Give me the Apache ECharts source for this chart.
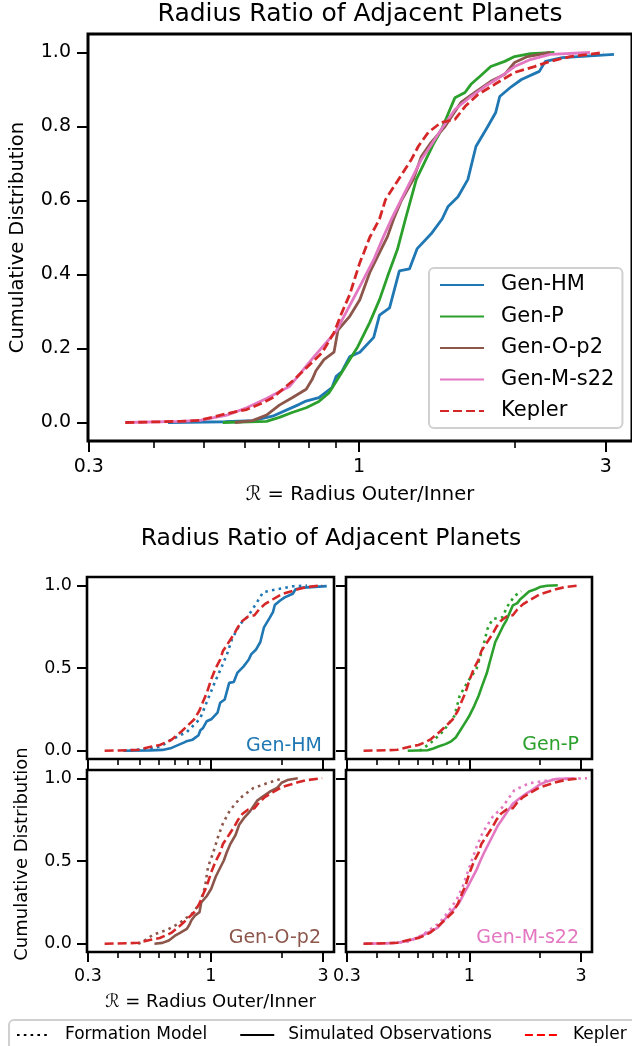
<!DOCTYPE html>
<html>
<head>
<meta charset="utf-8">
<script src="https://cdn.jsdelivr.net/npm/echarts@6/dist/echarts.min.js"></script>
<style>
  html, body { margin: 0; padding: 0; background: #fff; }
  #chart { width: 632px; height: 1046px; }
</style>
</head>
<body>
<div id="chart"></div>
<script>
// tick labels
var xTickMajor = [0.3, 1, 3];
var xTickMinor = [0.4, 0.5, 0.6, 0.7, 0.8, 0.9, 2];
var yTicksTop = [0, 0.2, 0.4, 0.6, 0.8, 1.0];
var yTicksSub = [0, 0.5, 1.0];

// simulated observations: [radius ratio, cumulative fraction]
var genHM = [[0.427,0],[0.55,0.002],[0.622,0.005],[0.68,0.017],[0.766,0.049],[0.786,0.057],[0.836,0.067],[0.886,0.094],[0.902,0.124],[0.926,0.138],[0.959,0.178],[1.003,0.19],[1.067,0.23],[1.095,0.29],[1.145,0.31],[1.196,0.41],[1.251,0.415],[1.295,0.47],[1.378,0.51],[1.447,0.55],[1.486,0.584],[1.553,0.61],[1.623,0.657],[1.682,0.746],[1.773,0.80],[1.837,0.838],[1.870,0.881],[1.971,0.908],[2.060,0.927],[2.231,0.949],[2.291,0.976],[2.471,0.986],[3.11,0.995]];
var genP = [[0.545,0],[0.662,0.003],[0.701,0.014],[0.742,0.027],[0.790,0.040],[0.836,0.057],[0.874,0.080],[0.902,0.110],[0.959,0.170],[0.994,0.205],[1.048,0.270],[1.095,0.332],[1.135,0.395],[1.186,0.468],[1.229,0.550],[1.290,0.657],[1.390,0.751],[1.441,0.790],[1.532,0.878],[1.602,0.892],[1.645,0.914],[1.711,0.935],[1.797,0.962],[1.912,0.976],[1.998,0.989],[2.144,0.997],[2.385,1.0]];
var genOp2 = [[0.575,0],[0.622,0.005],[0.662,0.02],[0.701,0.047],[0.742,0.067],[0.790,0.09],[0.811,0.116],[0.825,0.14],[0.855,0.17],[0.894,0.19],[0.910,0.25],[0.959,0.287],[1.003,0.332],[1.048,0.405],[1.095,0.459],[1.135,0.503],[1.166,0.55],[1.207,0.60],[1.273,0.657],[1.319,0.719],[1.378,0.757],[1.466,0.80],[1.573,0.865],[1.674,0.892],[1.797,0.922],[1.912,0.941],[1.998,0.973],[2.116,0.989],[2.342,1.0]];
var genMs22 = [[0.353,0],[0.45,0.003],[0.492,0.006],[0.555,0.02],[0.606,0.04],[0.662,0.065],[0.733,0.097],[0.818,0.178],[0.902,0.246],[0.943,0.297],[1.012,0.378],[1.067,0.44],[1.115,0.503],[1.155,0.55],[1.262,0.657],[1.319,0.711],[1.372,0.746],[1.441,0.792],[1.532,0.846],[1.645,0.881],[1.750,0.908],[1.878,0.935],[1.998,0.962],[2.144,0.981],[2.342,0.995],[2.795,1.0]];
var kepler = [[0.353,0],[0.45,0.003],[0.492,0.006],[0.555,0.024],[0.606,0.035],[0.653,0.054],[0.680,0.067],[0.749,0.116],[0.848,0.189],[0.894,0.243],[0.926,0.297],[0.959,0.346],[1.003,0.432],[1.021,0.459],[1.048,0.5],[1.095,0.55],[1.125,0.603],[1.202,0.665],[1.262,0.711],[1.301,0.746],[1.360,0.784],[1.441,0.811],[1.532,0.819],[1.602,0.854],[1.696,0.886],[1.829,0.914],[1.998,0.946],[2.183,0.962],[2.342,0.976],[2.559,0.989],[2.974,1.0]];

// formation model (intrinsic) distributions
var genHMForm = [[0.423,0],[0.514,0.008],[0.607,0.024],[0.670,0.062],[0.791,0.114],[0.899,0.193],[0.972,0.313],[1.041,0.416],[1.115,0.512],[1.171,0.584],[1.230,0.675],[1.331,0.765],[1.439,0.813],[1.572,0.898],[1.667,0.958],[1.912,0.976],[2.236,0.994],[2.565,0.998]];
var genPForm = [[0.613,0],[0.677,0.042],[0.769,0.114],[0.864,0.211],[0.908,0.331],[0.982,0.416],[1.072,0.494],[1.137,0.614],[1.194,0.735],[1.254,0.795],[1.383,0.807],[1.453,0.873],[1.556,0.934],[1.667,0.964]];
var genOp2Form = [[0.49,0],[0.508,0.008],[0.567,0.054],[0.651,0.084],[0.739,0.127],[0.839,0.187],[0.899,0.247],[0.944,0.343],[0.972,0.464],[1.021,0.548],[1.072,0.645],[1.126,0.729],[1.206,0.807],[1.331,0.88],[1.511,0.94],[1.733,0.97],[1.968,0.994]];
var genMs22Form = [[0.36,0],[0.47,0.004],[0.556,0.014],[0.632,0.054],[0.746,0.127],[0.807,0.187],[0.881,0.265],[0.935,0.343],[1.001,0.464],[1.072,0.584],[1.137,0.669],[1.254,0.765],[1.383,0.825],[1.556,0.928],[1.802,0.970],[2.348,0.994],[3.181,1.0]];

var FONT = 'DejaVu Sans';
var KEPLER_COLOR = '#d62728';
var models = [
  { name: 'Gen-HM', color: '#1f77b4', sim: genHM, form: genHMForm },
  { name: 'Gen-P', color: '#2ca02c', sim: genP, form: genPForm },
  { name: 'Gen-O-p2', color: '#8c564b', sim: genOp2, form: genOp2Form },
  { name: 'Gen-M-s22', color: '#e377c2', sim: genMs22, form: genMs22Form }
];

function toLog(pts) {
  return pts.map(function (p) { return [Math.log10(p[0]), p[1]]; });
}

var chart = echarts.init(document.getElementById('chart'));

// grid 0 = big panel, 1..4 = small panels
var grids = [
  { left: 88, top: 34, width: 548, height: 407, show: true, borderColor: '#000', borderWidth: 3 },
  { left: 87, top: 577, width: 247, height: 182, show: true, borderColor: '#000', borderWidth: 2.6 },
  { left: 346, top: 577, width: 246, height: 182, show: true, borderColor: '#000', borderWidth: 2.6 },
  { left: 87, top: 770, width: 247, height: 182, show: true, borderColor: '#000', borderWidth: 2.6 },
  { left: 346, top: 770, width: 246, height: 182, show: true, borderColor: '#000', borderWidth: 2.6 }
];

var xAxes = [];
var yAxes = [];

function addAxes(g, o) {
  var tickStyle = { color: '#000', width: 2 };
  xAxes.push({
    type: 'value', gridIndex: g, position: 'bottom',
    min: Math.log10(o.xmin), max: Math.log10(o.xmax),
    axisLine: { show: false, onZero: false },
    splitLine: { show: false },
    axisTick: { show: true, customValues: xTickMajor.map(Math.log10), length: o.major, lineStyle: tickStyle },
    axisLabel: {
      show: o.xLabels, customValues: xTickMajor.map(Math.log10), margin: o.margin,
      color: '#000', fontFamily: FONT, fontSize: o.fs,
      formatter: function (v) { return String(+Math.pow(10, v).toPrecision(2)); }
    },
    name: o.xName || '', nameLocation: 'middle', nameGap: o.xNameGap,
    nameTextStyle: { color: '#000', fontFamily: FONT, fontSize: o.nameFs }
  });
  // minor ticks
  xAxes.push({
    type: 'value', gridIndex: g, position: 'bottom',
    min: Math.log10(o.xmin), max: Math.log10(o.xmax),
    axisLine: { show: false, onZero: false },
    splitLine: { show: false },
    axisTick: { show: true, customValues: xTickMinor.map(Math.log10), length: o.minor, lineStyle: { color: '#000', width: 1.6 } },
    axisLabel: { show: false }
  });
  yAxes.push({
    type: 'value', gridIndex: g, position: 'left',
    min: -0.05, max: 1.05,
    axisLine: { show: false, onZero: false },
    splitLine: { show: false },
    axisTick: { show: true, customValues: o.yTicks, length: o.major, lineStyle: tickStyle },
    axisLabel: {
      show: o.yLabels, customValues: o.yTicks, margin: o.margin,
      color: '#000', fontFamily: FONT, fontSize: o.fs,
      formatter: function (v) { return v.toFixed(1); }
    },
    name: o.yName || '', nameLocation: 'middle', nameGap: o.yNameGap,
    nameTextStyle: { color: '#000', fontFamily: FONT, fontSize: o.nameFs, padding: o.yNamePad || 0 }
  });
}

addAxes(0, { xmin: 0.299, xmax: 3.37, major: 11, minor: 7, margin: 17, fs: 19, nameFs: 19.5,
  xLabels: true, yLabels: true, yTicks: yTicksTop,
  xName: 'ℛ = Radius Outer/Inner', xNameGap: 44, yName: 'Cumulative Distribution', yNameGap: 60 });
addAxes(1, { xmin: 0.297, xmax: 3.34, major: 10, minor: 6, margin: 15, fs: 17.5, nameFs: 18,
  xLabels: false, yLabels: true, yTicks: yTicksSub });
addAxes(2, { xmin: 0.297, xmax: 3.34, major: 10, minor: 6, margin: 15, fs: 17.5, nameFs: 18,
  xLabels: false, yLabels: false, yTicks: yTicksSub });
addAxes(3, { xmin: 0.297, xmax: 3.34, major: 10, minor: 6, margin: 15, fs: 17.5, nameFs: 18,
  xLabels: true, yLabels: true, yTicks: yTicksSub,
  xName: 'ℛ = Radius Outer/Inner', xNameGap: 41, yName: 'Cumulative Distribution', yNameGap: 56,
  yNamePad: [0, 0, 0, 14] });
addAxes(4, { xmin: 0.297, xmax: 3.34, major: 10, minor: 6, margin: 15, fs: 17.5, nameFs: 18,
  xLabels: true, yLabels: false, yTicks: yTicksSub });

function lineSeries(name, g, pts, color, width, dash) {
  return {
    type: 'line', name: name, xAxisIndex: 2 * g, yAxisIndex: g,
    data: toLog(pts), symbol: 'none', smooth: false, animation: false,
    color: color,
    lineStyle: { color: color, width: width, type: dash || 'solid' }
  };
}

var series = [];
// big panel
models.forEach(function (m) {
  series.push(lineSeries(m.name, 0, m.sim, m.color, 2.8));
});
series.push(lineSeries('Kepler', 0, kepler, KEPLER_COLOR, 2.8, [9, 4]));

// small panels
var graphicTexts = [];
var labelPos = [[322, 746], [579, 745], [321, 938], [579, 938]];
models.forEach(function (m, i) {
  var g = i + 1;
  series.push(lineSeries(m.name + ' formation', g, m.form, m.color, 2.6, [2.6, 4.2]));
  series.push(lineSeries(m.name + ' observed', g, m.sim, m.color, 2.6));
  series.push(lineSeries('Kepler ' + m.name, g, kepler, KEPLER_COLOR, 2.6, [9, 4]));
  graphicTexts.push({
    type: 'text', x: labelPos[i][0], y: labelPos[i][1],
    style: { text: m.name, fill: m.color, font: '19px "DejaVu Sans"', textAlign: 'right', textVerticalAlign: 'middle' }
  });
});

// dummy series only for the shared bottom legend
series.push({ type: 'line', name: 'Formation Model', xAxisIndex: 0, yAxisIndex: 0, data: [], symbol: 'none', color: '#000', lineStyle: { color: '#000', width: 2.5, type: [2.6, 4.2] } });
series.push({ type: 'line', name: 'Simulated Observations', xAxisIndex: 0, yAxisIndex: 0, data: [], symbol: 'none', color: '#000', lineStyle: { color: '#000', width: 2.5 } });
series.push({ type: 'line', name: 'Kepler (all)', xAxisIndex: 0, yAxisIndex: 0, data: [], symbol: 'none', color: '#ff0000', lineStyle: { color: '#ff0000', width: 2.5, type: [8, 4] } });

var option = {
  backgroundColor: '#fff',
  animation: false,
  title: [
    { text: 'Radius Ratio of Adjacent Planets', left: 360, top: 2, textAlign: 'center', padding: 0,
      textStyle: { fontFamily: FONT, fontSize: 25, fontWeight: 'normal', color: '#000' } },
    { text: 'Radius Ratio of Adjacent Planets', left: 331, top: 527, textAlign: 'center', padding: 0,
      textStyle: { fontFamily: FONT, fontSize: 23.5, fontWeight: 'normal', color: '#000' } }
  ],
  legend: [
    {
      data: [
        { name: 'Gen-HM' }, { name: 'Gen-P' }, { name: 'Gen-O-p2' }, { name: 'Gen-M-s22' },
        { name: 'Kepler', lineStyle: { type: [9, 4] } }
      ],
      orient: 'vertical', left: 429, top: 268,
      itemWidth: 44, itemHeight: 14, itemGap: 7.5,
      padding: [5, 8, 5, 10],
      itemStyle: { opacity: 0 },
      backgroundColor: 'rgba(255,255,255,0.85)', borderColor: '#d0d0d0', borderWidth: 2, borderRadius: 5,
      selectedMode: false,
      textStyle: { fontFamily: FONT, fontSize: 21, color: '#000', lineHeight: 24, padding: [0, 0, 0, 12] }
    },
    {
      data: [
        { name: 'Formation Model', lineStyle: { type: [2.6, 4.2] } },
        { name: 'Simulated Observations' },
        { name: 'Kepler (all)', lineStyle: { type: [8, 4] } }
      ],
      formatter: function (n) { return n === 'Kepler (all)' ? 'Kepler' : n; },
      orient: 'horizontal', left: 9, top: 1020, width: 720,
      itemWidth: 34, itemHeight: 14, itemGap: 32,
      padding: [5, 20, 10, 7],
      itemStyle: { opacity: 0 },
      backgroundColor: '#fff', borderColor: '#d0d0d0', borderWidth: 2, borderRadius: 5,
      selectedMode: false,
      textStyle: { fontFamily: FONT, fontSize: 17, color: '#000', lineHeight: 20, padding: [0, 0, 0, 9] }
    }
  ],
  grid: grids,
  xAxis: xAxes,
  yAxis: yAxes,
  graphic: { elements: graphicTexts },
  series: series
};

chart.setOption(option);
</script>
</body>
</html>
